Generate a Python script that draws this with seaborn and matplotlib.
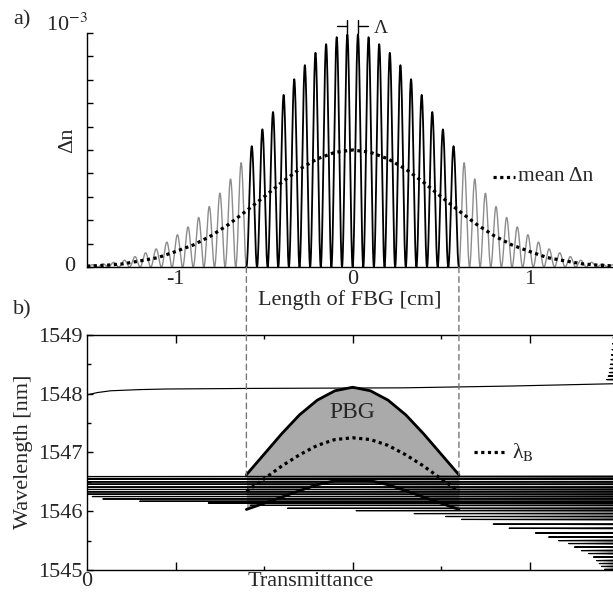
import numpy as np
import pandas as pd
import matplotlib
matplotlib.use("Agg")
import matplotlib.pyplot as plt
from matplotlib.patches import ConnectionPatch
import seaborn as sns

# ===============================
# DATA
# ===============================
# a) mean index change along the FBG, units of 1e-3, sampled every 0.1 cm
env_pos_cm = [-1.5, -1.4, -1.3, -1.2, -1.1, -1.0, -0.9, -0.8, -0.7, -0.6, -0.5,
              -0.4, -0.3, -0.2, -0.1, 0.0, 0.1, 0.2, 0.3, 0.4, 0.5, 0.6, 0.7,
              0.8, 0.9, 1.0, 1.1, 1.2, 1.3, 1.4, 1.5]
env_mean_dn = [0.004, 0.007, 0.013, 0.026, 0.040, 0.066, 0.094, 0.133, 0.182, 0.240,
               0.300, 0.362, 0.418, 0.462, 0.490, 0.500, 0.490, 0.462, 0.418, 0.362,
               0.300, 0.240, 0.182, 0.133, 0.094, 0.066, 0.040, 0.026, 0.013, 0.007,
               0.004]
grating_period_cm = 0.06
apod_half_cm = 0.6

# b) photonic band gap along the grating
pbg_pos_cm = [-0.6, -0.5, -0.4, -0.3, -0.2, -0.1, 0.0, 0.1, 0.2, 0.3, 0.4, 0.5, 0.6]
pbg_upper_nm = [1546.62, 1546.97, 1547.32, 1547.64, 1547.89, 1548.05, 1548.11,
                1548.05, 1547.89, 1547.64, 1547.32, 1546.97, 1546.62]
bragg_nm = [1546.34, 1546.55, 1546.77, 1546.96, 1547.12, 1547.22, 1547.25,
            1547.22, 1547.12, 1546.96, 1546.77, 1546.55, 1546.34]
pbg_lower_nm = [1546.03, 1546.135, 1546.24, 1546.35, 1546.45, 1546.52, 1546.53,
                1546.52, 1546.45, 1546.35, 1546.24, 1546.135, 1546.03]

# transmission spectrum: dips (wavelength, minimum transmittance)
fringe_nm = [1545.01, 1545.06, 1545.11, 1545.16, 1545.22, 1545.28, 1545.33, 1545.39,
             1545.45, 1545.50, 1545.56, 1545.63, 1545.71, 1545.78, 1545.86, 1545.91,
             1545.96, 1546.01, 1546.05, 1546.10, 1546.14, 1546.17, 1546.21, 1546.25,
             1546.29, 1546.33, 1546.37, 1546.41, 1546.46, 1546.50, 1546.55, 1546.59]
fringe_tmin = [0.981, 0.975, 0.971, 0.966, 0.960, 0.951, 0.937, 0.924,
               0.913, 0.894, 0.875, 0.850, 0.800, 0.770, 0.710, 0.680,
               0.620, 0.510, 0.380, 0.310, 0.230, 0.100, 0.030, 0.010,
               0.0, 0.0, 0.0, 0.0, 0.0, 0.0, 0.0, 0.0]
dip_halfwidth_nm = 0.008
edge_t = [0.0, 0.02, 0.045, 0.10, 0.15, 0.31, 0.60, 0.80, 1.0]
edge_nm = [1547.98, 1548.02, 1548.05, 1548.07, 1548.08, 1548.09, 1548.10, 1548.13, 1548.17]
ripple_nm = [1548.24, 1548.30, 1548.36, 1548.43, 1548.50, 1548.58, 1548.66,
             1548.75, 1548.85, 1548.95]
ripple_tmin = [0.985, 0.988, 0.990, 0.991, 0.992, 0.993, 0.994, 0.995, 0.996, 0.997]

# ===============================
# STYLE
# ===============================
sns.set_theme(style="white")
plt.rcParams["font.family"] = ["Liberation Serif", "DejaVu Serif"]
plt.rcParams["mathtext.fontset"] = "stix"
plt.rcParams["axes.linewidth"] = 1.0
FS = 16

fig = plt.figure(figsize=(6.13, 5.92), dpi=100)
ax1 = fig.add_axes([0.1419, 0.5490, 0.8581, 0.3953])
ax2 = fig.add_axes([0.1419, 0.0372, 0.8581, 0.3970])

# ===============================
# a) index modulation
# ===============================
x_fine = np.linspace(env_pos_cm[0], 1.47, 6000)
mean_fine = np.interp(x_fine, env_pos_cm, env_mean_dn)
dn = mean_fine * (1 - np.cos(2 * np.pi * x_fine / grating_period_cm))
grating = pd.DataFrame({"pos": x_fine, "dn": dn})
grating["seg"] = np.where(grating["pos"] < -apod_half_cm, "left",
                          np.where(grating["pos"] > apod_half_cm, "right", "mid"))
mid = grating[grating["pos"].abs() <= apod_half_cm + 1e-3]
tails = grating[grating["seg"] != "mid"]

sns.lineplot(data=tails, x="pos", y="dn", units="seg", estimator=None, sort=False,
             color="#8c8c8c", lw=1.0, legend=False, ax=ax1)
sns.lineplot(data=mid, x="pos", y="dn", estimator=None, sort=False,
             color="black", lw=1.3, legend=False, ax=ax1)
sns.lineplot(x=env_pos_cm, y=env_mean_dn, color="black", lw=2.3,
             linestyle=(0, (1, 1.1)), estimator=None, sort=False, ax=ax1, zorder=4)

ax1.set_xlim(-1.5, 1.47)
ax1.set_ylim(0, 1)
for s in ["top", "right"]:
    ax1.spines[s].set_visible(False)
for s in ["left", "bottom"]:
    ax1.spines[s].set_color("black")
ax1.set_yticks(np.linspace(0, 1, 11))
ax1.set_yticklabels([])
ax1.tick_params(axis="y", direction="in", length=4, width=1, color="black", left=True)
ax1.set_xticks([-1, 0, 1])
ax1.set_xticklabels(["-1", "0", "1"], fontsize=FS)
ax1.tick_params(axis="x", length=0, pad=2, bottom=True)
ax1.set_xlabel("Length of FBG [cm]", fontsize=FS, labelpad=1)
ax1.set_ylabel("")
ytr = ax1.get_yaxis_transform()
ax1.text(-0.023, 0.0, "0", transform=ytr, ha="right", va="center", fontsize=FS)
ax1.text(0.002, 1.01, r"10$^{-3}$", transform=ytr, ha="right", va="baseline", fontsize=FS)
ax1.text(-0.036, 0.543, "Δn", transform=ax1.transAxes, rotation=90,
         ha="center", va="center", fontsize=FS)

# grating period marker
half = grating_period_cm / 2
for sgn in (-1, 1):
    ax1.plot([sgn * half, sgn * half], [1.0, 1.056], color="black", lw=1, clip_on=False)
    ax1.plot([sgn * half, sgn * (half + 0.058)], [1.03, 1.03], color="black", lw=1, clip_on=False)
ax1.text(0.158, 1.02, "Λ", ha="center", va="center", fontsize=14, clip_on=False)

# legend a)
ax1.plot([0.79, 0.915], [0.385, 0.385], color="black", lw=2.3, linestyle=(0, (1, 1.1)))
ax1.text(0.932, 0.385, "mean Δn", ha="left", va="center", fontsize=15.5)

# ===============================
# b) band gap + transmission
# ===============================
ax2.fill_between(pbg_pos_cm, pbg_lower_nm, pbg_upper_nm, color="#aaaaaa", lw=0, zorder=1)

ax2t = ax2.twiny()
rows = []
for lam, tmin in zip(fringe_nm, fringe_tmin):
    rows += [(1.0, lam - dip_halfwidth_nm, "fringes"), (tmin, lam, "fringes"),
             (1.0, lam + dip_halfwidth_nm, "fringes")]
rows += [(fringe_tmin[-1], fringe_nm[-1], "gap"), (edge_t[0], edge_nm[0], "gap")]
rows += [(t, lam, "edge") for t, lam in zip(edge_t, edge_nm)]
rows.append((1.0, edge_nm[-1], "ripple"))
for lam, tmin in zip(ripple_nm, ripple_tmin):
    rows += [(1.0, lam - dip_halfwidth_nm, "ripple"), (tmin, lam, "ripple"),
             (1.0, lam + dip_halfwidth_nm, "ripple")]
spectrum = pd.DataFrame(rows, columns=["T", "nm", "piece"])
sns.lineplot(data=spectrum, x="T", y="nm", units="piece", estimator=None, sort=False,
             color="black", lw=0.85, legend=False, ax=ax2t)

pbg = pd.DataFrame({"pos": pbg_pos_cm, "upper": pbg_upper_nm,
                    "bragg": bragg_nm, "lower": pbg_lower_nm})
for col in ["upper", "lower"]:
    sns.lineplot(data=pbg, x="pos", y=col, color="black", lw=2.0,
                 estimator=None, sort=False, ax=ax2, zorder=3)
sns.lineplot(data=pbg, x="pos", y="bragg", color="black", lw=2.3,
             linestyle=(0, (1, 1.1)), estimator=None, sort=False, ax=ax2, zorder=3)

ax2.set_xlim(-1.5, 1.47)
ax2.set_ylim(1545, 1549)
ax2.spines["right"].set_visible(False)
for s in ["left", "top", "bottom"]:
    ax2.spines[s].set_color("black")
ax2.set_xticks([-1, 0, 1])
ax2.set_xticks([-0.5, 0.5], minor=True)
ax2.set_xticklabels([])
ax2.tick_params(axis="x", which="major", direction="in", length=6, width=1,
                color="black", top=True, bottom=True)
ax2.tick_params(axis="x", which="minor", direction="in", length=3, width=1,
                color="black", top=True, bottom=True)
ax2.set_yticks([1545, 1546, 1547, 1548, 1549])
ax2.set_yticks([1545.5, 1546.5, 1547.5, 1548.5], minor=True)
ax2.set_yticklabels(["1545", "1546", "1547", "1548", "1549"], fontsize=FS)
ax2.tick_params(axis="y", which="major", direction="in", length=4, width=1,
                color="black", left=True, pad=3.5)
ax2.tick_params(axis="y", which="minor", direction="in", length=3, width=1,
                color="black", left=True)
ax2.set_xlabel("")
ax2.set_ylabel("Wavelength [nm]", fontsize=FS)
ax2.yaxis.label.set_va("center")
ax2.yaxis.set_label_coords(-0.121, 0.502)

ax2t.set_xlim(0, 0.997)
for s in ax2t.spines.values():
    s.set_visible(False)
ax2t.xaxis.set_ticks_position("bottom")
ax2t.xaxis.set_label_position("bottom")
ax2t.set_xticks([0])
ax2t.set_xticklabels(["0"], fontsize=FS)
ax2t.tick_params(axis="x", length=0, pad=1.5)
ax2t.set_xlabel("Transmittance", fontsize=FS)
ax2t.xaxis.label.set_va("center")
ax2t.xaxis.set_label_coords(0.426, -0.047)

ax2.text(0.0, 1547.68, "PBG", ha="center", va="center", fontsize=17, zorder=5)

# legend b)
ax2.plot([0.684, 0.86], [1547.01, 1547.01], color="black", lw=2.3, linestyle=(0, (1, 1.1)))
ax2.text(0.898, 1547.01, r"λ$_{\mathrm{B}}$", ha="left", va="center", fontsize=15.5)

# dashed guides from a) down to the band gap edges
for xi, top_nm in [(pbg_pos_cm[0], pbg_upper_nm[0]), (pbg_pos_cm[-1], pbg_upper_nm[-1])]:
    con = ConnectionPatch(xyA=(xi, 0), coordsA=ax1.transData,
                          xyB=(xi, top_nm), coordsB=ax2.transData,
                          color="#777777", lw=1, linestyle=(0, (4, 3)))
    fig.add_artist(con)

fig.text(0.036, 0.966, "a)", ha="center", va="center", fontsize=FS)
fig.text(0.036, 0.476, "b)", ha="center", va="center", fontsize=FS)

fig.savefig("out.png", dpi=100)
